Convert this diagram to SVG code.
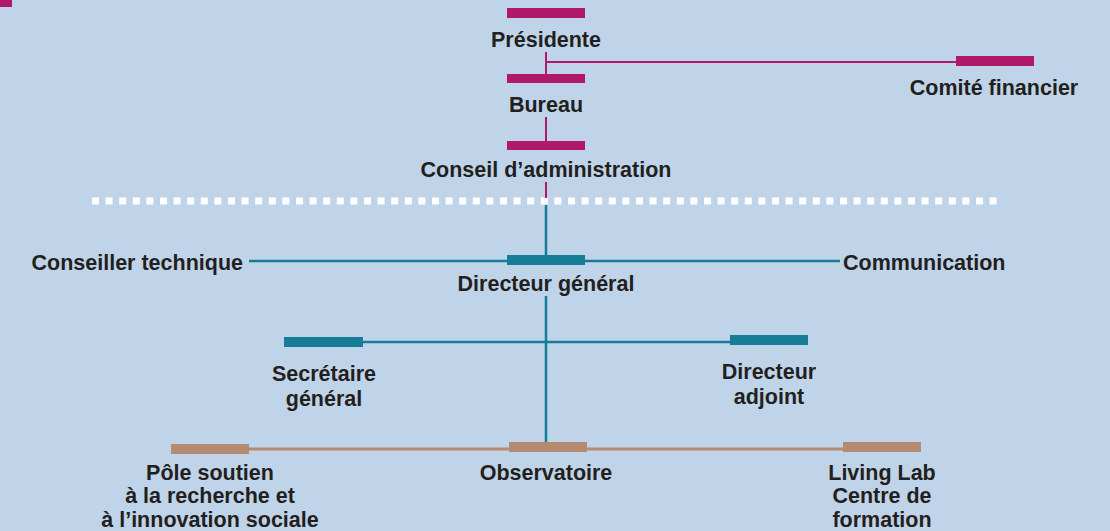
<svg xmlns="http://www.w3.org/2000/svg" width="1110" height="531" viewBox="0 0 1110 531">
<style>
text{font-family:"Liberation Sans",Arial,sans-serif;font-weight:bold;font-size:21.5px;fill:#231F20;}
.c{text-anchor:middle}
.e{text-anchor:end}
.m{fill:#B0186A}
.t{fill:#177D96}
.b{fill:#B48A70}
.lm{stroke:#B0186A;stroke-width:2;fill:none}
.lt{stroke:#177D96;stroke-width:2.5;fill:none}
.lb{stroke:#B48A70;stroke-width:3;fill:none}
</style>
<rect width="1110" height="531" fill="#BFD4E8"/>
<rect x="0" y="0" width="12" height="7" class="m"/>
<line x1="92" y1="201" x2="1000" y2="201" stroke="#FFFFFF" stroke-width="7" stroke-dasharray="7 6.6"/>
<g id="connectors">
<line class="lm" x1="546" y1="52" x2="546" y2="74"/>
<line class="lm" x1="546" y1="62" x2="956" y2="62"/>
<line class="lm" x1="546" y1="117" x2="546" y2="141"/>
<line class="lm" x1="546" y1="182" x2="546" y2="198"/>
<line class="lt" x1="546" y1="205" x2="546" y2="255"/>
<line class="lt" x1="249" y1="261" x2="507" y2="261"/>
<line class="lt" x1="585" y1="261" x2="840" y2="261"/>
<line class="lt" x1="546" y1="296" x2="546" y2="442"/>
<line class="lt" x1="363" y1="342" x2="730" y2="342"/>
<line class="lb" x1="249" y1="449" x2="509" y2="449"/>
<line class="lb" x1="587" y1="449" x2="843" y2="449"/>
</g>
<g id="presidente"><rect x="507" y="8" width="78" height="10" class="m"/><text x="546" y="47" class="c">Présidente</text></g>
<g id="comite"><rect x="956" y="56" width="78" height="10" class="m"/><text x="994" y="95" class="c">Comité financier</text></g>
<g id="bureau"><rect x="507" y="74" width="78" height="9" class="m"/><text x="546" y="112" class="c">Bureau</text></g>
<g id="conseil"><rect x="507" y="141" width="78" height="9" class="m"/><text x="546" y="177" class="c">Conseil d’administration</text></g>
<g id="conseiller"><text x="243" y="270" class="e">Conseiller technique</text></g>
<g id="communication"><text x="843" y="270">Communication</text></g>
<g id="directeur"><rect x="507" y="255" width="78" height="10" class="t"/><text x="546" y="291" class="c">Directeur général</text></g>
<g id="secretaire"><rect x="284" y="337" width="79" height="10" class="t"/><text x="324" y="381" class="c">Secrétaire</text><text x="324" y="406" class="c">général</text></g>
<g id="adjoint"><rect x="730" y="335" width="78" height="10" class="t"/><text x="769" y="379" class="c">Directeur</text><text x="769" y="404" class="c">adjoint</text></g>
<g id="pole"><rect x="171" y="444" width="78" height="10" class="b"/><text x="210" y="480" class="c">Pôle soutien</text><text x="210" y="503" class="c">à la recherche et</text><text x="210" y="527" class="c">à l’innovation sociale</text></g>
<g id="observatoire"><rect x="509" y="442" width="78" height="10" class="b"/><text x="546" y="480" class="c">Observatoire</text></g>
<g id="livinglab"><rect x="843" y="442" width="78" height="10" class="b"/><text x="882" y="480" class="c">Living Lab</text><text x="882" y="503" class="c">Centre de</text><text x="882" y="527" class="c">formation</text></g>
</svg>
